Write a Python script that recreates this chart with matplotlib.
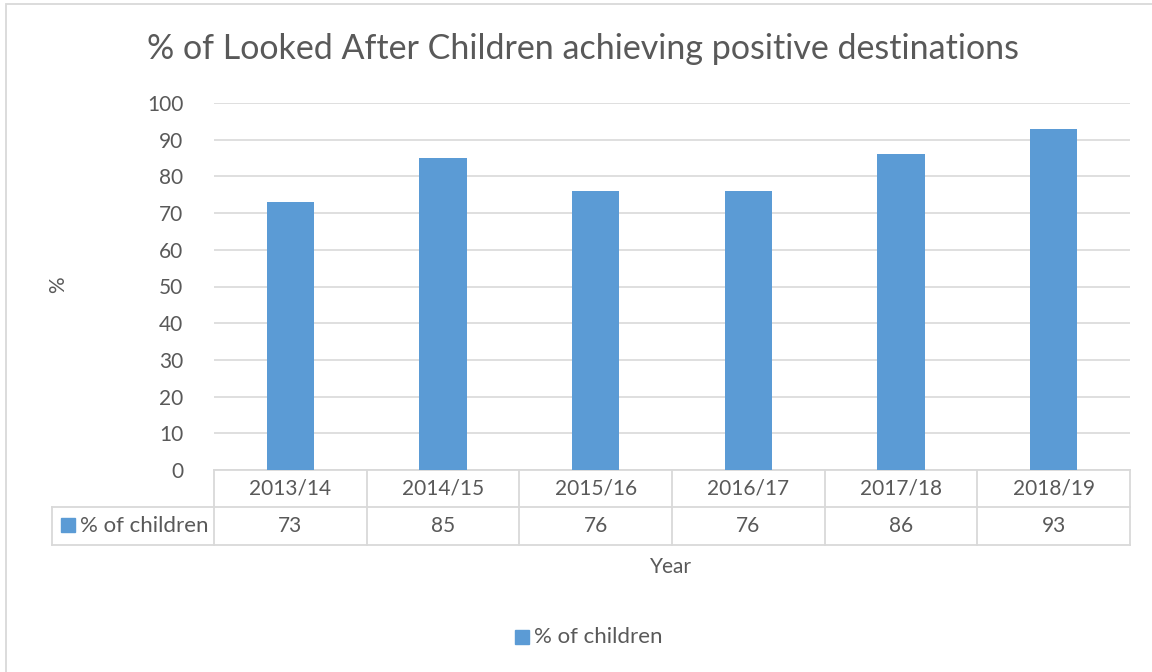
import numpy as np
import matplotlib
matplotlib.use("Agg")
import matplotlib.pyplot as plt
from matplotlib.transforms import blended_transform_factory
from matplotlib.patches import Rectangle
from matplotlib.lines import Line2D

# data
years = ["2013/14", "2014/15", "2015/16", "2016/17", "2017/18", "2018/19"]
pct_children = [73, 85, 76, 76, 86, 93]
series_name = "% of children"

bar_col = "#5B9BD5"
txt_col = "#595959"
grid_col = "#D9D9D9"
fs = 15

plt.rcParams['font.family'] = ['Lato', 'DejaVu Sans']

fig = plt.figure(figsize=(11.52, 6.72), dpi=100)
W, H = 1152.0, 672.0

# outer chart border
fig.add_artist(Rectangle((6 / W, -0.01), 1.02, (672 - 4) / H + 0.01, transform=fig.transFigure,
                         fill=False, edgecolor=grid_col, lw=1.3))

ax = fig.add_axes([214 / W, 1 - 470 / H, (1130 - 214) / W, (470 - 103) / H])
x = np.arange(len(years))
ax.bar(x, pct_children, width=0.31, color=bar_col, zorder=3)
ax.set_xlim(-0.5, len(years) - 0.5)
ax.set_ylim(0, 100)
ax.set_yticks(range(0, 101, 10))
ax.yaxis.grid(True, color=grid_col, lw=1.2, zorder=0)
ax.set_xticks([])
for s in ["top", "right", "left"]:
    ax.spines[s].set_visible(False)
ax.spines["bottom"].set_color(grid_col)
ax.spines["bottom"].set_linewidth(1.3)
ax.tick_params(axis="y", length=0, pad=22, labelsize=fs, labelcolor=txt_col)

fig.text(583 / W, 1 - 49 / H, "% of Looked After Children achieving positive destinations",
         ha="center", va="center", fontsize=24.5, color=txt_col)
fig.text(58 / W, 1 - 285 / H, "%", rotation=90, ha="center", va="center",
         fontsize=fs, color=txt_col)
fig.text(671 / W, 1 - 567 / H, "Year", ha="center", va="center", fontsize=fs, color=txt_col)

# data table under the axis
tr = blended_transform_factory(ax.transData, fig.transFigure)
y0, y1, y2 = 1 - 470 / H, 1 - 507 / H, 1 - 545 / H
xl = -0.5 - (214 - 52) / ((1130 - 214) / len(years))
lw = 1.3
for b in np.arange(-0.5, len(years), 1.0):
    fig.add_artist(Line2D([b, b], [y0, y2], transform=tr, color=grid_col, lw=lw))
for yy in (y1, y2):
    fig.add_artist(Line2D([xl, len(years) - 0.5], [yy, yy], transform=tr, color=grid_col, lw=lw))
fig.add_artist(Line2D([xl, xl], [y1, y2], transform=tr, color=grid_col, lw=lw))
for i, (yr, v) in enumerate(zip(years, pct_children)):
    fig.text(i, (y0 + y1) / 2, yr, transform=tr, ha="center", va="center",
             fontsize=fs, color=txt_col)
    fig.text(i, (y1 + y2) / 2, str(v), transform=tr, ha="center", va="center",
             fontsize=fs, color=txt_col)
fig.add_artist(Rectangle((61 / W, 1 - 532 / H), 14 / W, 14 / H, transform=fig.transFigure,
                         color=bar_col))
fig.text(80 / W, (y1 + y2) / 2, series_name, ha="left", va="center", fontsize=fs + 1, color=txt_col)

# legend at the bottom
fig.add_artist(Rectangle((515 / W, 1 - 644 / H), 14 / W, 14 / H, transform=fig.transFigure,
                         color=bar_col))
fig.text(534 / W, 1 - 637 / H, series_name, ha="left", va="center", fontsize=fs + 1, color=txt_col)

fig.savefig("out.png", dpi=100)
